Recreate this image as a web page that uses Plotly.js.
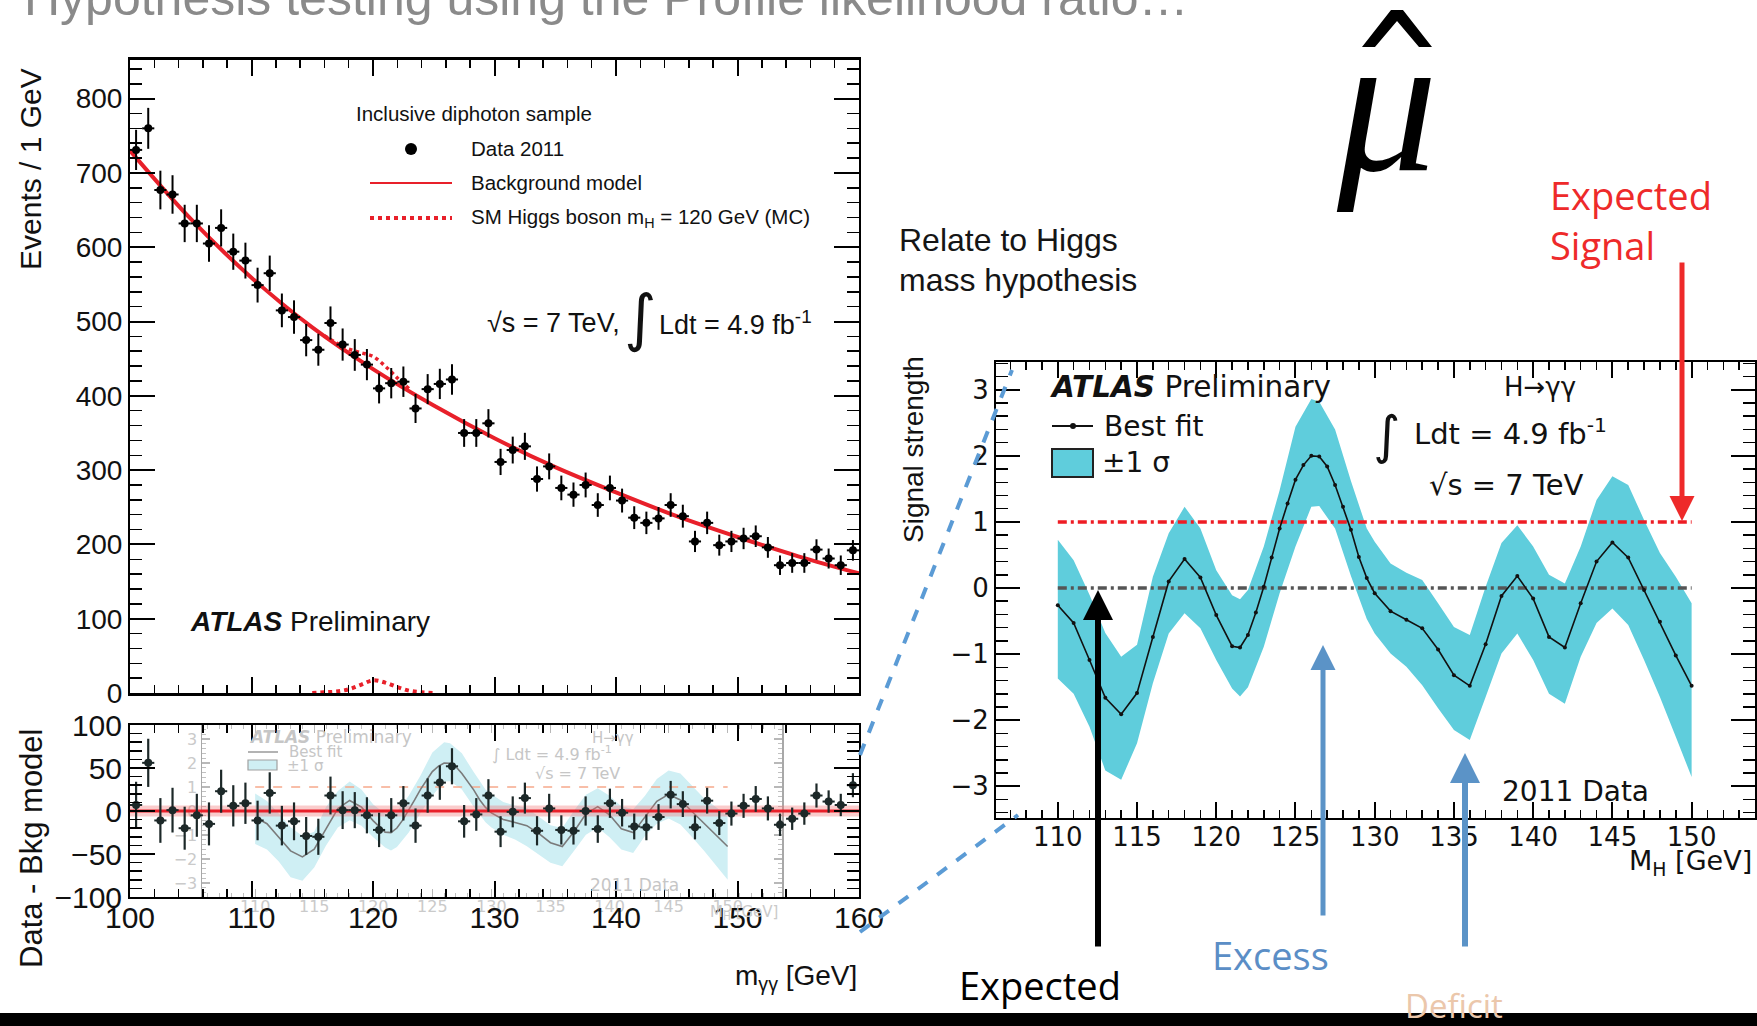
<!DOCTYPE html>
<html>
<head>
<meta charset="utf-8">
<script src="https://cdn.plot.ly/plotly-3.0.1.min.js"></script>
<style>html,body{margin:0;padding:0;background:#fff;}#chart{width:1757px;height:1026px;}</style>
</head>
<body>
<div id="chart"></div>
<script>
// ---------------- DATA ----------------
// Left, upper panel: diphoton invariant mass spectrum (1 GeV bins)
const massBins = [100.5,101.5,102.5,103.5,104.5,105.5,106.5,107.5,108.5,109.5,
  110.5,111.5,112.5,113.5,114.5,115.5,116.5,117.5,118.5,119.5,
  120.5,121.5,122.5,123.5,124.5,125.5,126.5,127.5,128.5,129.5,
  130.5,131.5,132.5,133.5,134.5,135.5,136.5,137.5,138.5,139.5,
  140.5,141.5,142.5,143.5,144.5,145.5,146.5,147.5,148.5,149.5,
  150.5,151.5,152.5,153.5,154.5,155.5,156.5,157.5,158.5,159.5];
const events = [731,760,677,671,632,632,605,626,594,582,
  549,565,515,506,475,462,498,469,455,442,
  410,417,419,383,409,416,422,350,350,363,
  311,327,332,288,305,276,267,280,253,276,
  259,236,229,235,253,238,204,229,199,204,
  208,211,196,172,175,175,193,181,172,192];
const bgMass  = [100,105,110,115,120,125,130,135,140,145,150,155,160];
const bgModel = [730,638,559,492,436,387,343,304,270,238,210,184,161];
const sigMass   = [115,116,117,118,119,120,121,122,123,124,125];
const sigEvents = [0,1,2,5,11,17,14,8,3,1,0];
const sbMass   = [116,117,118,119,120,121,122,123];
const sbEvents = [481,471,463,458,453,440,424,409];

// Left, lower panel: data - background
const resid = [7,56,-11,1,-20,-5,-15,23,6,9,
  -11,21,-17,-12,-29,-30,18,1,1,-5,
  -22,-5,9,-17,18,33,52,-12,-4,18,
  -24,-1,15,-23,3,-22,-23,0,-21,9,
  -2,-18,-19,-7,19,8,-19,12,-14,-3,
  6,14,3,-16,-9,-3,18,11,7,30];
const residErr = [27,28,26,26,25,25,25,25,24,24,
  23,24,23,22,22,21,22,22,21,21,
  20,20,20,20,20,20,21,19,19,19,
  18,18,18,17,17,17,16,17,16,17,
  16,15,15,15,16,15,14,15,14,14,
  14,15,14,13,13,13,14,13,13,14];
const bkgZeroMass = [100,160];
const bkgZero = [0,0];

// Right panel: best-fit signal strength vs M_H
const fitMass = [110,111,112,113,114,115,116,117,118,119,120,
  121,121.5,122,122.5,123,123.5,124,124.5,125,125.5,126,126.5,127,127.5,128,128.5,129,129.5,130,
  131,132,133,134,135,136,137,138,139,140,141,142,143,144,145,146,147,148,149,150];
const fitMu = [-0.26,-0.53,-1.09,-1.66,-1.91,-1.59,-0.74,0.10,0.44,0.16,-0.41,
  -0.88,-0.90,-0.71,-0.37,0.02,0.46,0.90,1.28,1.64,1.86,2.00,1.99,1.84,1.56,1.23,0.88,0.47,0.15,-0.08,
  -0.35,-0.48,-0.61,-0.93,-1.32,-1.48,-0.85,-0.12,0.18,-0.16,-0.74,-0.90,-0.23,0.40,0.69,0.46,-0.03,-0.51,-1.02,-1.48];
const bandMass = [110,111,112,113,114,115,116,117,118,119,120,121,121.5,122,123,124,125,126,126.5,127.5,128.5,129.5,130,
  131,132,133,134,135,136,137,138,139,140,141,142,143,144,145,146,147,148,149,150];
const bandHi = [0.73,0.42,-0.10,-0.68,-1.04,-0.86,0.17,0.83,1.23,0.90,0.27,-0.11,-0.17,-0.03,0.63,1.48,2.44,2.86,2.82,2.40,1.62,0.90,0.70,
  0.37,0.23,0.12,-0.23,-0.59,-0.71,0.02,0.68,0.95,0.63,0.20,0.07,0.63,1.33,1.69,1.56,1.03,0.53,0.17,-0.23];
const bandLo = [-1.37,-1.60,-2.10,-2.76,-2.90,-2.35,-1.44,-0.69,-0.38,-0.61,-1.09,-1.52,-1.64,-1.50,-0.89,-0.08,0.63,1.23,1.24,0.90,0.18,-0.47,-0.69,
  -0.99,-1.19,-1.47,-1.82,-2.15,-2.30,-1.65,-0.99,-0.69,-1.09,-1.60,-1.75,-1.04,-0.53,-0.31,-0.56,-1.09,-1.65,-2.25,-2.86];
const refMass = [110,150];
const expectedMu = [1,1];
const nullMu = [0,0];

// ---------------- helpers ----------------
const W = 1757, H = 1026;
const px = v => v / W;
const py = v => 1 - v / H;
const SANS = 'Liberation Sans, Arial, sans-serif';
const DJ = 'DejaVu Sans, sans-serif';
const CAL = 'Open Sans, sans-serif';

function note(x, y, text, size, o) {
  o = o || {};
  return {xref:'paper', yref:'paper', x:px(x), y:py(y), text:text, showarrow:false,
    xanchor:o.xa || 'left', yanchor:o.ya || 'middle', textangle:o.angle || 0,
    font:{family:o.family || SANS, size:size, color:o.color || '#111'}};
}
function arrow(x, tip, tail, color, width) {
  return {xref:'paper', yref:'paper', x:px(x), y:py(tip), ax:0, ay:tail - tip,
    axref:'pixel', ayref:'pixel', showarrow:true, arrowhead:2, arrowsize:1,
    arrowwidth:width, arrowcolor:color, text:''};
}
function pathFromPx(pts) {
  return 'M' + pts.map(p => px(p[0]).toFixed(5) + ',' + py(p[1]).toFixed(5)).join(' L') + ' Z';
}
function lineShape(x0, y0, x1, y1, color, width, dash) {
  return {type:'line', xref:'paper', yref:'paper', x0:px(x0), y0:py(y0), x1:px(x1), y1:py(y1),
    line:{color:color, width:width, dash:dash || 'solid'}};
}

const CYAN = '#5fcddc';
const RED = '#e8202a';

// ---------------- traces ----------------
const traces = [
  // top-left
  {x:bgMass, y:bgModel, xaxis:'x', yaxis:'y', mode:'lines', line:{color:RED, width:4, shape:'spline'}, hoverinfo:'skip'},
  {x:sigMass, y:sigEvents, xaxis:'x', yaxis:'y', mode:'lines', line:{color:RED, width:4, dash:'dot', shape:'spline'}, hoverinfo:'skip', cliponaxis:false},
  {x:sbMass, y:sbEvents, xaxis:'x', yaxis:'y', mode:'lines', line:{color:RED, width:3.5, dash:'dot', shape:'spline'}, hoverinfo:'skip'},
  {x:massBins, y:events, xaxis:'x', yaxis:'y', mode:'markers', marker:{color:'#000', size:8},
    error_y:{type:'sqrt', color:'#000', thickness:2, width:0},
    error_x:{type:'constant', value:0.5, color:'#000', thickness:2, width:0}},
  // inset (faded copy of the signal-strength plot)
  {x:bandMass.concat(bandMass.slice().reverse()), y:bandHi.concat(bandLo.slice().reverse()),
    xaxis:'x2', yaxis:'y2', mode:'lines', fill:'toself', fillcolor:'#cfeff4', line:{width:0}, hoverinfo:'skip'},
  {x:refMass, y:expectedMu, xaxis:'x2', yaxis:'y2', mode:'lines', line:{color:'#f6a98c', width:1.5, dash:'dash'}},
  {x:refMass, y:nullMu, xaxis:'x2', yaxis:'y2', mode:'lines', line:{color:'#a0a0a0', width:1.5, dash:'dash'}},
  {x:fitMass, y:fitMu, xaxis:'x2', yaxis:'y2', mode:'lines', line:{color:'#7a7a7a', width:1.6}},
  // residuals
  {x:bkgZeroMass, y:bkgZero, xaxis:'x3', yaxis:'y3', mode:'lines', line:{color:'rgba(240,110,110,0.35)', width:11}},
  {x:bkgZeroMass, y:bkgZero, xaxis:'x3', yaxis:'y3', mode:'lines', line:{color:RED, width:3}},
  {x:massBins, y:resid, xaxis:'x3', yaxis:'y3', mode:'markers', marker:{color:'#1c2828', size:8},
    error_y:{type:'data', array:residErr, color:'#1c2828', thickness:2.2, width:0},
    error_x:{type:'constant', value:0.5, color:'#1c2828', thickness:2, width:0}},
  // right panel
  {x:bandMass.concat(bandMass.slice().reverse()), y:bandHi.concat(bandLo.slice().reverse()),
    xaxis:'x4', yaxis:'y4', mode:'lines', fill:'toself', fillcolor:CYAN, line:{width:0}, hoverinfo:'skip'},
  {x:refMass, y:expectedMu, xaxis:'x4', yaxis:'y4', mode:'lines', line:{color:'#ee1c24', width:3.5, dash:'9px,4px,3px,4px'}},
  {x:refMass, y:nullMu, xaxis:'x4', yaxis:'y4', mode:'lines', line:{color:'#555', width:3.5, dash:'9px,4px,3px,4px'}},
  {x:fitMass, y:fitMu, xaxis:'x4', yaxis:'y4', mode:'lines+markers', line:{color:'#111', width:1.6}, marker:{color:'#111', size:4}}
];

// ---------------- axes ----------------
function ax(extra) {
  return Object.assign({showline:true, linecolor:'#000', linewidth:2, mirror:'ticks', ticks:'inside',
    tickcolor:'#000', tickwidth:2, showgrid:false, zeroline:false, fixedrange:true}, extra);
}
const layout = {
  width:W, height:H, margin:{l:0, r:0, t:0, b:0}, paper_bgcolor:'#fff', plot_bgcolor:'rgba(0,0,0,0)',
  showlegend:false,
  xaxis: ax({domain:[px(130), px(859)], anchor:'y', range:[100,160], tick0:100, dtick:10, ticklen:16,
    minor:{dtick:2, ticklen:8, tickwidth:1.5, ticks:'inside', tickcolor:'#000'}, showticklabels:false, linewidth:3}),
  yaxis: ax({domain:[py(693), py(60)], anchor:'x', range:[0,852], dtick:100, ticklen:25,
    minor:{dtick:20, ticklen:12, tickwidth:1.5, ticks:'inside', tickcolor:'#000'},
    tickfont:{family:SANS, size:28, color:'#111'}}),
  xaxis2: ax({domain:[px(202), px(782)], anchor:'y2', range:[105.5,154.6], tick0:110, dtick:5, ticklen:8,
    linecolor:'#a8a8a8', linewidth:1.5, tickcolor:'#b8b8b8', tickwidth:1.2, mirror:'ticks',
    minor:{dtick:1, ticklen:4, tickwidth:1, ticks:'inside', tickcolor:'#c0c0c0'},
    tickfont:{family:DJ, size:16, color:'#cacaca'}, ticklabelstandoff:-6}),
  yaxis2: ax({domain:[py(897), py(725)], anchor:'x2', range:[-3.58,3.58], dtick:1, ticklen:8,
    linecolor:'#a8a8a8', linewidth:1.5, tickcolor:'#b8b8b8', tickwidth:1.2, mirror:'ticks',
    minor:{dtick:0.2, ticklen:4, tickwidth:1, ticks:'inside', tickcolor:'#c0c0c0'},
    tickfont:{family:DJ, size:16, color:'#cacaca'}}),
  xaxis3: ax({domain:[px(130), px(859)], anchor:'y3', range:[100,160], tick0:100, dtick:10, ticklen:16,
    minor:{dtick:2, ticklen:8, tickwidth:1.5, ticks:'inside', tickcolor:'#000'},
    tickfont:{family:SANS, size:30, color:'#111'}, ticklabelstandoff:-7}),
  yaxis3: ax({domain:[py(897), py(725)], anchor:'x3', range:[-100,100], dtick:50, ticklen:25,
    minor:{dtick:10, ticklen:12, tickwidth:1.5, ticks:'inside', tickcolor:'#000'},
    tickfont:{family:SANS, size:30, color:'#111'}}),
  xaxis4: ax({domain:[px(996), px(1755)], anchor:'y4', range:[106.1,154], tick0:110, dtick:5, ticklen:16,
    minor:{dtick:1, ticklen:8, tickwidth:1.5, ticks:'inside', tickcolor:'#000'},
    tickfont:{family:DJ, size:26, color:'#111'}, ticklabelstandoff:-5}),
  yaxis4: ax({domain:[py(818), py(362)], anchor:'x4', range:[-3.48,3.42], dtick:1, ticklen:24,
    minor:{dtick:0.2, ticklen:12, tickwidth:1.5, ticks:'inside', tickcolor:'#000'},
    tickfont:{family:DJ, size:26, color:'#111'}}),
  shapes: [
    // dashed zoom lines
    lineShape(860, 755, 1012, 370, '#5b9bd5', 4, 'dash'),
    lineShape(860, 932, 1018, 815, '#5b9bd5', 4, 'dash'),
    // bottom black bar
    {type:'rect', xref:'paper', yref:'paper', x0:0, x1:1, y0:py(1026), y1:py(1013), fillcolor:'#000', line:{width:0}},
    // hat over mu
    {type:'path', xref:'paper', yref:'paper', path:pathFromPx([[1362,47],[1391,10],[1403,10],[1432,47],[1419,47],[1397,21],[1375,47]]),
      fillcolor:'#000', line:{width:0}},
    // left legend symbols
    {type:'circle', xref:'paper', yref:'paper', x0:px(405), x1:px(417), y0:py(155), y1:py(143), fillcolor:'#000', line:{width:0}},
    lineShape(370, 183, 452, 183, RED, 2),
    lineShape(370, 218, 452, 218, RED, 4, 'dot'),
    // right legend symbols
    lineShape(1052, 426, 1093, 426, '#111', 2),
    {type:'circle', xref:'paper', yref:'paper', x0:px(1070), x1:px(1076), y0:py(429), y1:py(423), fillcolor:'#111', line:{width:0}},
    {type:'rect', xref:'paper', yref:'paper', x0:px(1052), x1:px(1093), y0:py(477), y1:py(449), fillcolor:CYAN, line:{color:'#222', width:2}},
    // inset legend symbols
    lineShape(248, 752, 278, 752, '#9a9a9a', 1.5),
    {type:'rect', xref:'paper', yref:'paper', x0:px(248), x1:px(277), y0:py(770), y1:py(760), fillcolor:'#cfeff4', line:{color:'#a0a0a0', width:1.2}}
  ],
  annotations: [
    note(22, -2, 'Hypothesis testing using the Profile likelihood ratio…', 50, {color:'#8a8a8a', ya:'middle'}),
    note(1386, 103, '<i>μ</i>', 200, {xa:'center', family:'Liberation Serif, DejaVu Serif, serif', color:'#000'}),
    note(897, 240, 'Relate to Higgs', 32, {color:'#151515'}),
    note(897, 280, 'mass hypothesis', 32, {color:'#151515'}),
    note(1548, 195, 'Expected', 38, {family:CAL, color:'#ee2a2a'}),
    note(1548, 245, 'Signal', 38, {family:CAL, color:'#ee2a2a'}),
    note(1040, 985, 'Expected', 38, {family:CAL, xa:'center', color:'#000'}),
    note(1270, 955, 'Excess', 38, {family:CAL, xa:'center', color:'#5b8ec6'}),
    note(1454, 1005, 'Deficit', 33, {family:CAL, xa:'center', color:'#ebc7ab'}),
    // left panel texts
    note(30, 169, 'Events / 1 GeV', 30, {xa:'center', angle:-90}),
    note(31, 848, 'Data - Bkg model', 31, {xa:'center', angle:-90}),
    note(859, 977, 'm<sub>γγ</sub> [GeV]', 28, {xa:'right'}),
    note(354, 113, 'Inclusive diphoton sample', 20.5),
    note(469, 148, 'Data 2011', 20.5),
    note(469, 183, 'Background model', 20.5),
    note(469, 218, 'SM Higgs boson m<sub>H</sub> = 120 GeV (MC)', 20.5),
    note(485, 323, '√s = 7 TeV,', 27),
    note(640, 318, '∫', 62, {xa:'center', family:DJ}),
    note(657, 323, 'Ldt = 4.9 fb<sup>-1</sup>', 27),
    note(188, 621, '<b><i>ATLAS</i></b> Preliminary', 28),
    // inset texts (faded)
    note(247, 737, '<b><i>ATLAS</i></b> Preliminary', 17, {family:DJ, color:'#c6c6c6'}),
    note(287, 752, 'Best fit', 15, {family:DJ, color:'#c6c6c6'}),
    note(285, 766, '±1 σ', 15, {family:DJ, color:'#c6c6c6'}),
    note(590, 738, 'H→γγ', 15, {family:DJ, color:'#c6c6c6'}),
    note(490, 753, '∫ Ldt = 4.9 fb<sup>-1</sup>', 16, {family:DJ, color:'#c6c6c6'}),
    note(533, 773, '√s = 7 TeV', 16, {family:DJ, color:'#c6c6c6'}),
    note(588, 885, '2011 Data', 17, {family:DJ, color:'#c6c6c6'}),
    note(780, 912, 'M<sub>H</sub> [GeV]', 15, {family:DJ, xa:'right', color:'#cacaca'}),
    // right panel texts
    note(913, 450, 'Signal strength', 28, {xa:'center', angle:-90}),
    note(1048, 387, '<b><i>ATLAS</i></b> Preliminary', 29.5, {family:DJ}),
    note(1102, 426, 'Best fit', 28, {family:DJ}),
    note(1100, 463, '±1 σ', 28, {family:DJ}),
    note(1502, 387, 'H→γγ', 26, {family:DJ}),
    note(1386, 435, '∫', 52, {xa:'center', family:DJ}),
    note(1412, 432, 'Ldt = 4.9 fb<sup>-1</sup>', 29, {family:DJ}),
    note(1427, 485, '√s = 7 TeV', 29, {family:DJ}),
    note(1500, 791, '2011 Data', 28, {family:DJ}),
    note(1754, 862, 'M<sub>H</sub> [GeV]', 27, {family:DJ, xa:'right'}),
    // arrows
    arrow(1682, 521, 261, '#ee2a2a', 5),
    arrow(1098, 590, 948, '#000', 6),
    arrow(1323, 645, 917, '#5b93c7', 5),
    arrow(1465, 753, 948, '#5b93c7', 6)
  ]
};

Plotly.newPlot('chart', traces, layout, {displayModeBar:false, staticPlot:true});
</script>
</body>
</html>
